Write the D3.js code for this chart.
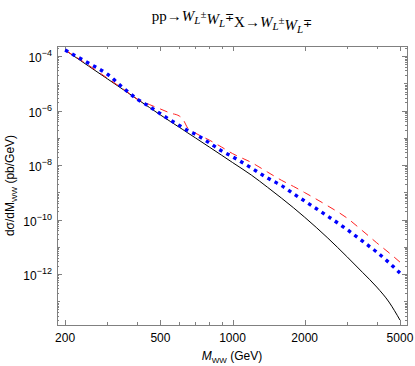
<!DOCTYPE html>
<html>
<head>
<meta charset="utf-8">
<script src="https://cdn.jsdelivr.net/npm/d3@7/dist/d3.min.js"></script>
<style>
    body { margin: 0; background: #fff; }
    .tick-lab { font-family: "Liberation Sans", Arial, sans-serif; font-size: 12px; fill: #000; }
</style>
</head>
<body>
<script>
    var width = 415
    var height = 366

    // invariant mass (GeV)
    var mass = [200, 250, 300, 350, 400, 450, 500, 550, 600, 620, 650, 700, 800, 900,
        1000, 1200, 1400, 1600, 1800, 2000, 2500, 3000, 3500, 4000, 4500, 5000]

    // dsigma/dM (pb/GeV)
    var solid = [1.66e-4, 4.37e-5, 1.47e-5, 5.85e-6, 2.62e-6, 1.30e-6, 6.90e-7, 3.98e-7, 2.42e-7, 2.01e-7,
        1.52e-7, 9.95e-8, 4.58e-8, 2.31e-8, 1.24e-8, 4.26e-9, 1.53e-9, 6.15e-10, 2.67e-10, 1.22e-10,
        2.09e-11, 4.39e-12, 1.12e-12, 3.33e-13, 9.38e-14, 2.05e-14]
    var dotted = [1.66e-4, 5.53e-5, 2.18e-5, 6.70e-6, 2.64e-6, 1.40e-6, 7.64e-7, 4.48e-7, 2.82e-7, 2.38e-7,
        1.85e-7, 1.34e-7, 6.53e-8, 3.32e-8, 2.02e-8, 7.76e-9, 3.33e-9, 1.77e-9, 8.77e-10, 4.78e-10,
        1.32e-10, 4.37e-11, 1.57e-11, 6.41e-12, 2.62e-12, 1.09e-12]
    var dashed = [1.66e-4, 4.68e-5, 1.56e-5, 6.15e-6, 2.64e-6, 1.66e-6, 1.14e-6, 8.09e-7, 6.28e-7, 4.88e-7,
        2.28e-7, 1.49e-7, 8.26e-8, 4.58e-8, 2.64e-8, 1.24e-8, 5.53e-9, 2.77e-9, 1.63e-9, 9.79e-10,
        3.16e-10, 1.15e-10, 3.78e-11, 1.40e-11, 6.05e-12, 2.75e-12]

    var xTicks = [200, 500, 1000, 2000, 5000]
    var xMinor = [300, 400, 600, 700, 800, 900, 3000, 4000]
    var yExps = [-4, -6, -8, -10, -12]

    var pL = 57, pR = 407, pT = 46, pB = 325

    var x = d3.scaleLog().domain([185, 5350]).range([pL, pR])
    var y = d3.scaleLog().domain([Math.pow(10, -3.63), Math.pow(10, -13.87)]).range([pT, pB])

    var svg = d3.select("body").append("svg")
        .attr("width", width)
        .attr("height", height)

    svg.append("defs").append("clipPath").attr("id", "clip")
        .append("rect").attr("x", pL).attr("y", pT)
        .attr("width", pR - pL).attr("height", pB - pT)

    // title
    var title = svg.append("text")
        .attr("x", 232).attr("y", 21)
        .attr("text-anchor", "middle")
        .style("font-family", "'Liberation Serif', 'Times New Roman', serif")
        .style("font-size", "15px")
    var pendingDy = 0
    function part(txt, italic, size, dy) {
        var t = title.append("tspan").text(txt).attr("dy", pendingDy + dy)
        if (italic) t.style("font-style", "italic")
        if (size) t.style("font-size", size)
        pendingDy = -dy
    }
    function wl(sign) {
        part("W", true, null, 0)
        part("L", true, "11px", 3)
        pendingDy = 0
        part(sign, false, "11px", -6)
    }
    part("pp\u2192", false, null, 0)
    wl("\u00b1"); wl("\u2213")
    part("X\u2192", false, null, 0)
    wl("\u00b1"); wl("\u2213")

    // frame + ticks
    var tickCol = "#808080"
    var yMinor = []
    for (var e = -14; e <= -3; e++) {
        for (var m = 2; m <= 9; m++) yMinor.push(m * Math.pow(10, e))
    }
    var yMid = [-5, -7, -9, -11, -13].map(function (d) { return Math.pow(10, d) })
    var yMajor = yExps.map(function (d) { return Math.pow(10, d) })
    var inY = function (v) { return v <= y.domain()[0] && v >= y.domain()[1] }
    yMinor = yMinor.filter(inY)

    var axes = svg.append("g").attr("stroke", tickCol).attr("stroke-width", 1).attr("fill", "none")
    axes.append("rect").attr("x", pL + 0.5).attr("y", pT + 0.5)
        .attr("width", pR - pL).attr("height", pB - pT)

    function hTicks(vals, len) {
        vals.forEach(function (v) {
            var yy = Math.round(y(v)) + 0.5
            axes.append("line").attr("x1", pL).attr("x2", pL + len).attr("y1", yy).attr("y2", yy)
            axes.append("line").attr("x1", pR).attr("x2", pR - len).attr("y1", yy).attr("y2", yy)
        })
    }
    function vTicks(vals, len) {
        vals.forEach(function (v) {
            var xx = Math.round(x(v)) + 0.5
            axes.append("line").attr("y1", pB).attr("y2", pB - len).attr("x1", xx).attr("x2", xx)
            axes.append("line").attr("y1", pT).attr("y2", pT + len).attr("x1", xx).attr("x2", xx)
        })
    }
    hTicks(yMajor, 5)
    hTicks(yMid, 3)
    hTicks(yMinor, 2)
    vTicks(xTicks, 5)
    vTicks(xMinor, 3)

    // x tick labels
    svg.selectAll(".xl").data(xTicks).enter().append("text")
        .attr("class", "tick-lab")
        .attr("x", function (d) { return x(d) })
        .attr("y", 342)
        .attr("text-anchor", "middle")
        .text(function (d) { return d })

    // y tick labels
    yExps.forEach(function (ex) {
        var t = svg.append("text").attr("class", "tick-lab")
            .attr("x", 52).attr("y", y(Math.pow(10, ex)) + 6)
            .attr("text-anchor", "end")
        t.append("tspan").text("10")
        t.append("tspan").attr("dy", -6).style("font-size", "9px").text("\u2212" + (-ex))
    })

    // axis titles
    var xl = svg.append("text").attr("class", "tick-lab")
        .attr("x", 232).attr("y", 360).attr("text-anchor", "middle")
    xl.append("tspan").style("font-style", "italic").text("M")
    xl.append("tspan").style("font-size", "8px").attr("dy", 3).text("WW")
    xl.append("tspan").attr("dy", -3).text(" (GeV)")

    var yl = svg.append("text").attr("class", "tick-lab")
        .attr("transform", "translate(14," + ((pT + pB) / 2) + ") rotate(-90)")
        .attr("text-anchor", "middle")
    yl.append("tspan").text("d\u03c3/dM")
    yl.append("tspan").style("font-size", "8px").attr("dy", 3).text("WW")
    yl.append("tspan").attr("dy", -3).text(" (pb/GeV)")

    // curves
    var plot = svg.append("g").attr("clip-path", "url(#clip)")
    function draw(vals, col, w, dash) {
        var line = d3.line()
            .x(function (d, i) { return x(mass[i]) })
            .y(function (d) { return y(d) })
            .curve(d3.curveMonotoneX)
        plot.append("path")
            .attr("d", line(vals))
            .attr("fill", "none")
            .attr("stroke", col)
            .attr("stroke-width", w)
            .attr("stroke-dasharray", dash)
    }
    draw(solid, "#000", 1, null)
    draw(dashed, "#ff2020", 1, "8,6")
    draw(dotted, "#0000ff", 3.4, "3.5,4.5")
</script>
</body>
</html>
